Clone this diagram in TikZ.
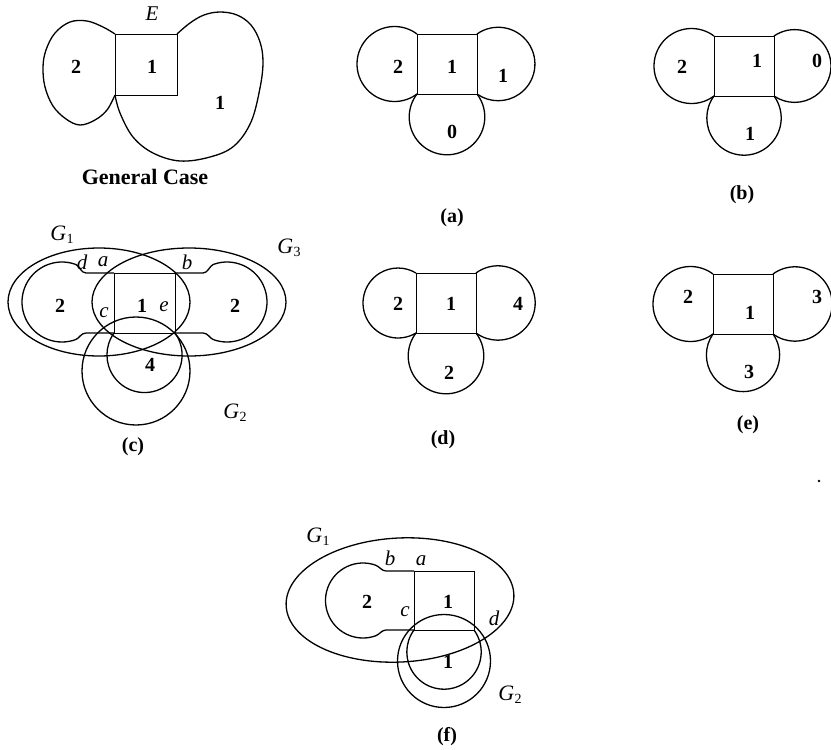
\documentclass[tikz,border=0pt]{standalone}
\usepackage{fontspec}
\setmainfont{Liberation Serif}
\newcommand\Gsb[1]{\textit{G}\kern0.5pt\raisebox{-3pt}{\fontsize{14}{14}\selectfont #1}}
% arc of a lobe: start corner (#1,#2), end corner (#3,#4), centre (#5,#6)
\newcommand\lobearc[6]{%
  \pgfmathsetmacro\lbR{veclen(#1-#5,#2-#6)}%
  \pgfmathsetmacro\lbA{atan2(#2-#6,#1-#5)}%
  \pgfmathsetmacro\lbB{atan2(#4-#6,#3-#5)}%
  \pgfmathsetmacro\lbD{mod(\lbB-\lbA+720,360)}%
  \draw[curve] (#1,#2) arc[start angle=\lbA, delta angle=\lbD, radius=\lbR];%
}
\begin{document}
\begin{tikzpicture}[x=1pt,y=-1pt,
  curve/.style={line width=1.3pt},
  sq/.style={line width=0.9pt},
  num/.style={font=\bfseries\fontsize{20}{24}\selectfont, inner sep=0pt},
  ital/.style={font=\itshape\fontsize{21}{24}\selectfont, inner sep=0pt},
  capt/.style={font=\bfseries\fontsize{20}{24}\selectfont, inner sep=0pt},
  glab/.style={font=\fontsize{22}{24}\selectfont, inner sep=0pt}]
\useasboundingbox (0,0) rectangle (831,750);

% ---------------- General case ----------------
\draw[sq] (115,34) rectangle (177,95);
\draw[curve] plot[smooth, tension=0.6] coordinates {(115,34) (103,27) (87,21) (70,22) (55,33) (46,50) (43,67) (45,87) (53,106) (66,119) (80,125) (95,120) (107,110) (115,95)};
\draw[curve] plot[smooth, tension=0.6] coordinates {(177,34) (190,23) (204,15) (220,12) (237,15) (251,25) (260,42) (263,62) (260,88) (251,122) (234,146) (210,157) (180,161) (153,153) (133,137) (120,113) (115,95)};
\node[ital] (gE) at (152,14) {E};
\node[num] (g2) at (76,67) {2};
\node[num] (g1) at (152,67) {1};
\node[num] (g1b) at (220,103) {1};
\node[font=\bfseries\fontsize{22}{26}\selectfont, inner sep=0pt] (gcap) at (145,177) {General Case};

% ---------------- (a) ----------------
\draw[sq] (417,34) rectangle (477,94);
\lobearc{417}{94}{417}{34}{394.5}{64}
\lobearc{477}{34}{477}{94}{498.2}{64}
\lobearc{477}{94}{417}{94}{447}{117}
\node[num] (a2) at (398,67) {2};
\node[num] (a1) at (452,67) {1};
\node[num] (a1r) at (503,76) {1};
\node[num] (a0) at (452,132) {0};
\node[capt] (acap) at (452,218) {(a)};

% ---------------- (b) ----------------
\draw[sq] (714,36) rectangle (774,96);
\lobearc{714}{96}{714}{36}{691.5}{66}
\lobearc{774}{36}{774}{96}{794.6}{66}
\lobearc{774}{96}{714}{96}{744}{118}
\node[num] (b2) at (682,67) {2};
\node[num] (b1) at (757,61) {1};
\node[num] (b0) at (817,61) {0};
\node[num] (b1b) at (750,134) {1};
\node[capt] (bcap) at (742,195) {(b)};

% ---------------- (c) ----------------
\draw[sq] (114,273) rectangle (175,333);
\draw[curve] (114,273) -- (86,273) .. controls (81,273) and (79.44,265.78) .. (75.68,264.41)
  arc[start angle=290, end angle=70, radius=40]
  .. controls (79.44,338.2) and (81,333) .. (86,333) -- (114,333);
\draw[curve] (175,273) -- (203,273) .. controls (208,273) and (209.56,265.78) .. (213.32,264.41)
  arc[start angle=250, end angle=470, radius=40]
  .. controls (209.56,338.2) and (208,333) .. (203,333) -- (175,333);
\lobearc{175}{333}{114}{333}{144.5}{355}
\draw[curve] (99,302) ellipse [x radius=91, y radius=54];
\draw[curve] (189,302) ellipse [x radius=97, y radius=54];
\draw[curve] (136,371) circle [radius=54];
\node[glab] (cG1) at (62,235) {\Gsb{1}};
\node[glab] (cG3) at (289,248) {\Gsb{3}};
\node[glab] (cG2) at (235,413) {\Gsb{2}};
\node[ital] (cd) at (82,262) {d};
\node[ital] (ca) at (103,262) {a};
\node[ital] (cb) at (187,262) {b};
\node[num] (c2) at (60,306) {2};
\node[num] (c1) at (142,306) {1};
\node[ital] (ce) at (164,307) {e};
\node[num] (c2r) at (235,306) {2};
\node[ital] (cc) at (104,313) {c};
\node[num] (c4) at (150,365) {4};
\node[capt] (ccap) at (133,447) {(c)};

% ---------------- (d) ----------------
\draw[sq] (416,273) rectangle (476,333);
\lobearc{416}{333}{416}{273}{398}{303}
\lobearc{476}{273}{476}{333}{498}{303}
\lobearc{476}{333}{416}{333}{446}{356}
\node[num] (d2) at (398,304) {2};
\node[num] (d1) at (451,304) {1};
\node[num] (d4) at (518,304) {4};
\node[num] (d2b) at (449,373) {2};
\node[capt] (dcap) at (443,440) {(d)};

% ---------------- (e) ----------------
\draw[sq] (713,274) rectangle (773,334);
\lobearc{713}{334}{713}{274}{690.5}{304}
\lobearc{773}{274}{773}{334}{795}{304}
\lobearc{773}{334}{713}{334}{743}{355}
\node[num] (e2) at (688,297) {2};
\node[num] (e1) at (750,313) {1};
\node[num] (e3) at (817,297) {3};
\node[num] (e3b) at (749,372) {3};
\node[capt] (ecap) at (748,425) {(e)};

% stray dot
\fill (819,481) circle [radius=1.3];

% ---------------- (f) ----------------
\draw[sq] (414,571) rectangle (474,630);
\draw[curve] (414,571) -- (386,571) .. controls (382,571) and (379.1,566.46) .. (375.83,565.26)
  arc[start angle=290, end angle=70, radius=37.5]
  .. controls (379.1,634.54) and (382,630) .. (386,630) -- (414,630);
\lobearc{474}{630}{414}{630}{444}{652}
\draw[curve] (444,661) circle [radius=46.5];
\draw[curve, rotate around={3:(400,600)}] (400,600) ellipse [x radius=114, y radius=62];
\node[glab] (fG1) at (318,537) {\Gsb{1}};
\node[glab] (fG2) at (510,695) {\Gsb{2}};
\node[ital] (fb) at (390,558) {b};
\node[ital] (fa) at (421,561) {a};
\node[num] (f2) at (367,602) {2};
\node[ital] (fc) at (405,612) {c};
\node[num] (f1) at (448,602) {1};
\node[ital] (fd) at (494,618) {d};
\node[num] (f1b) at (448,662) {1};
\node[capt] (fcap) at (447,737) {(f)};
\end{tikzpicture}
\end{document}
